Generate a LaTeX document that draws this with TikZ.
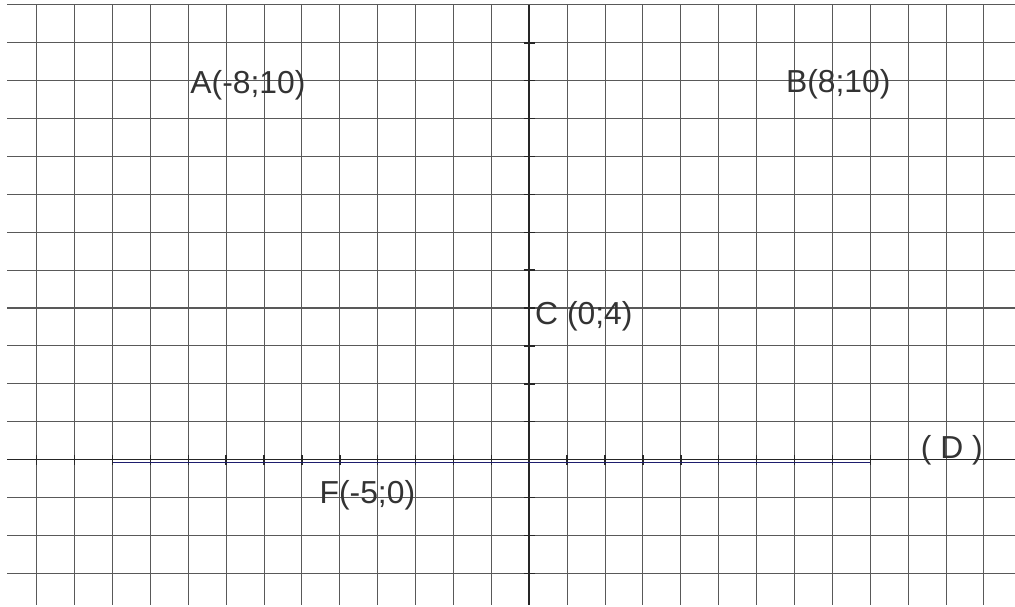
\documentclass[tikz,border=0pt]{standalone}
\usepackage{fontspec}
\setmainfont{Liberation Sans}
\usetikzlibrary{positioning}
\definecolor{lineD}{RGB}{30,30,110}
\tikzset{
	>=stealth
}

\begin{document}
\begin{tikzpicture}[
every node/.style = {
	font = \fontsize{23.9}{28}\selectfont,
	text = black!80,
	inner sep = 0pt,
	anchor = base west
},
gridline/.style = {
	draw = black!65,
	line width = .8pt
},
axis/.style = {
	draw = black!85,
	line width = 1.3pt
},
tickmark/.style = {
	draw = black!85,
	line width = 1.1pt
}
]

\useasboundingbox (-13.97,-3.88) rectangle (12.82,12.13);

% grid
\foreach \x in {-13,...,12}
	\draw [gridline] (\x,12) -- (\x,-3.83);
\foreach \y in {-3,...,12}
	\draw [gridline] (-13.78,\y) -- (12.82,\y);

% axes
\draw [axis] (-13.78,0) -- (12.82,0);
\draw [axis] (0,12) -- (0,-3.83);
\foreach \x in {-13,...,9}
	\draw [tickmark] (\x,-.13) -- (\x,.13);
\foreach \y in {-3,...,11}
	\draw [tickmark] (-.15,\y) -- (.15,\y);

% line (D)
\draw [draw = lineD, line width = .8pt] (-11,-.07) -- (9,-.07);

% labels
\node (label_A) at (-8.95,9.66) {A(-8;10)};
\node (label_B) at (6.77,9.68) {B(8;10)};
\node (label_C) at (0.15,3.57) {C (0;4)};
\node (label_F) at (-5.54,-1.17) {F(-5;0)};
\node (label_D) at (10.33,0.02) {( D )};

\end{tikzpicture}
\end{document}
